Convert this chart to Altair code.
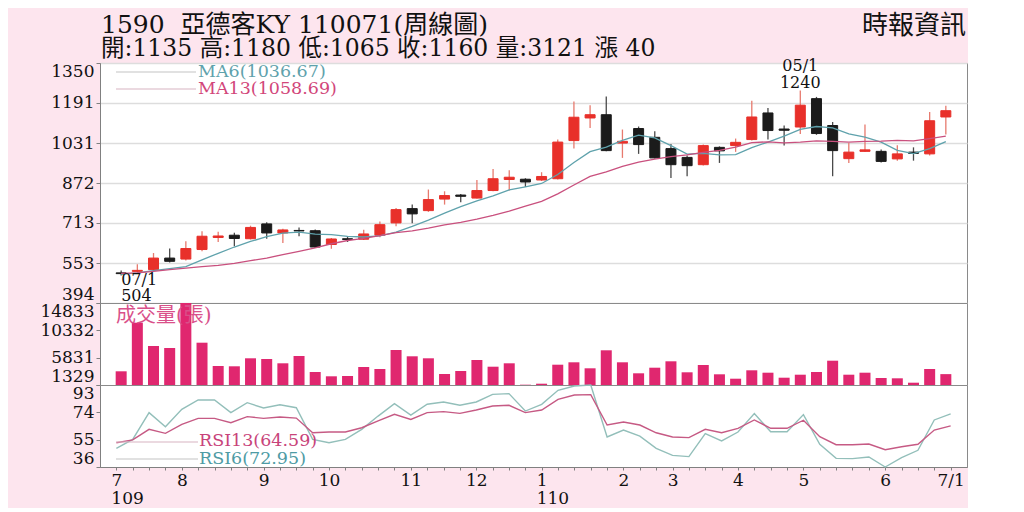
import json
import altair as alt
import pandas as pd

# ---------------- data ----------------
weeks = list(range(52))
opens = [514, 520, 527, 573, 569, 607, 655, 664, 650, 709, 673, 683, 682, 627, 650, 648, 664, 713,
         770, 762, 808, 824, 812, 842, 886, 887, 884, 889, 1041, 1131, 1144, 1031, 1089, 1054, 1009,
         974, 945, 1014, 1021, 1045, 1151, 1087, 1095, 1208, 1101, 969, 998, 998, 968, 995, 988, 1135]
highs = [523, 548, 593, 611, 640, 680, 678, 674, 702, 716, 690, 695, 687, 653, 660, 686, 719, 772,
         786, 846, 839, 828, 884, 928, 923, 891, 915, 1045, 1197, 1182, 1217, 1085, 1097, 1078, 1027,
         982, 1025, 1018, 1049, 1200, 1171, 1101, 1240, 1215, 1115, 1031, 1105, 1005, 1022, 1014, 1155, 1180]
lows = [504, 515, 522, 555, 563, 600, 637, 620, 647, 650, 633, 660, 613, 610, 637, 645, 656, 700,
        712, 757, 786, 795, 810, 839, 842, 856, 880, 886, 1009, 1091, 998, 972, 988, 970, 892,
        899, 942, 952, 996, 1041, 1045, 1021, 1067, 1064, 899, 952, 995, 954, 961, 961, 982, 1065]
closes = [511, 524, 573, 560, 611, 660, 661, 651, 695, 673, 685, 681, 617, 649, 647, 669, 706, 766,
          749, 806, 822, 819, 842, 889, 895, 876, 898, 1035, 1134, 1144, 1001, 1038, 1025, 972, 945,
          941, 1021, 1000, 1034, 1135, 1081, 1082, 1182, 1069, 1001, 995, 1004, 958, 988, 990, 1120, 1160]
ma6 = [508, 514, 523, 531, 539, 566, 592, 617, 639, 658, 672, 676, 668, 666, 659, 657, 661, 676,
       699, 724, 752, 778, 801, 821, 845, 857, 870, 906, 954, 997, 1015, 1042, 1063, 1052, 1021,
       987, 990, 984, 985, 1013, 1035, 1059, 1086, 1097, 1092, 1068, 1055, 1035, 1002, 989, 1009, 1036.67]
ma13 = [512, 514, 520, 527, 533, 539, 544, 552, 563, 573, 587, 600, 614, 630, 643, 651, 662, 674,
        681, 692, 705, 715, 728, 743, 760, 780, 799, 829, 864, 898, 916, 938, 955, 967, 977,
        984, 994, 1002, 1015, 1033, 1036, 1032, 1035, 1040, 1038, 1035, 1038, 1039, 1042, 1040, 1049, 1058.69]
volumes = [3585, 11590, 7752, 7423, 14833, 8296, 4458, 4409, 5727, 5611, 4903, 6105, 3470, 2762,
           2811, 4294, 3964, 7094, 6056, 5727, 3141, 3635, 5447, 4343, 4903, 1380, 1543, 4672,
           5067, 4079, 7044, 5067, 3256, 4178, 5232, 3421, 4623, 3091, 2366, 3750, 3355, 2531,
           3025, 3470, 5331, 3025, 3355, 2482, 2432, 1708, 3964, 3121]
rsi6 = [49, 55.2, 73.8, 64, 76.1, 82.6, 82.6, 73.8, 80.7, 77, 79.3, 77.2, 55.2, 52.9, 55.2, 62.2,
        71.4, 80, 72.1, 79.6, 81.2, 78.9, 81.2, 86.5, 87, 74.9, 79.6, 89.3, 92.3, 93, 56.9, 61.7,
        57.5, 49, 44.1, 43.2, 59.2, 54.1, 60.3, 73.1, 60.5, 60.5, 72.4, 51.8, 42, 41.8, 43, 36,
        42.5, 47.6, 68.7, 72.95]
rsi13 = [52.9, 54.8, 62.2, 59.4, 65.7, 69.8, 69.8, 66.8, 71, 69.8, 70.8, 70, 59.8, 60.3, 60.3, 63.3,
         68, 72.6, 69.1, 73.8, 74.5, 73.3, 75.6, 78.4, 78.9, 73.8, 75.6, 83, 86, 86.3, 65.2, 67.3,
         65.2, 59.8, 56.9, 56.4, 62.2, 59.8, 62.9, 68.7, 62.9, 62.9, 68.5, 57.1, 51.5, 51.5, 52, 48,
         50.1, 51.8, 61.7, 64.59]

month_pos = [0, 4, 9, 13, 18, 22, 26, 31, 34, 38, 42, 47, 51]
month_txt = ["7", "8", "9", "10", "11", "12", "1", "2", "3", "4", "5", "6", "7/1"]
year_pos = [0, 26]
year_txt = ["109", "110"]
price_ticks = [394, 553, 713, 872, 1031, 1191, 1350]
vol_ticks = [1329, 5831, 10332, 14833]
rsi_ticks = [36, 55, 74, 93]

title1 = "1590\u00a0\u00a0亞德客KY 110071(周線圖)"
title2 = "開:1135 高:1180 低:1065 收:1160 量:3121 漲 40"
source = "時報資訊"
ma6_txt = "MA6(1036.67)"
ma13_txt = "MA13(1058.69)"
vol_txt = "成交量(張)"
rsi13_txt = "RSI13(64.59)"
rsi6_txt = "RSI6(72.95)"
low_ann = {"week": 0, "price": 504, "date": "07/1", "val": "504"}
high_ann = {"week": 42, "price": 1240, "date": "05/1", "val": "1240"}

# ---------------- styling ----------------
BG = "#FDE5EE"
RED = "#E8302A"
RED_W = "#E77A6E"
BLK = "#1B1B1B"
BLK_W = "#4A4A4A"
VOL = "#E0276F"
TEAL = "#5FA2AC"
PINK = "#C9507E"
RSI6_C = "#93BFBA"
RSI13_C = "#C65A84"
SERIF = "DejaVu Serif"
MIX = "DejaVu Serif, Noto Sans CJK TC"
AX = "#808080"

W = 867
H1, H2, H3 = 240, 82, 82

df = pd.DataFrame({"week": weeks, "open": opens, "high": highs, "low": lows, "close": closes,
                   "ma6": ma6, "ma13": ma13, "vol": volumes, "rsi6": rsi6, "rsi13": rsi13})

xscale = alt.Scale(domain=[-1, 52], nice=False, zero=False)
up = "datum.close >= datum.open"


def one():
    return alt.Chart(pd.DataFrame({"k": [0]}))


def yaxis(vals, grid=False):
    return alt.Axis(values=vals, format="d", title=None, labelFont=SERIF, labelFontSize=17,
                    labelColor="#111", labelFlush=True, labelPadding=2, tickSize=4, tickColor=AX,
                    domainColor=AX, grid=grid, gridColor="#dddddd", gridWidth=1.5,
                    labelOverlap=False)


def text(t, x, y, color="#111", size=19, align="left", font=MIX):
    return one().mark_text(text=t, align=align, baseline="middle", font=font, fontSize=size,
                           color=color).encode(x=alt.value(x), y=alt.value(y))


def seg(x1, x2, y, color):
    return one().mark_rule(color=color, strokeWidth=1.2).encode(
        x=alt.value(x1), x2=alt.value(x2), y=alt.value(y))


# invisible anchor that fixes the top-left corner of the page
anchor = one().mark_rule(opacity=0).encode(x=alt.value(-91), x2=alt.value(-90), y=alt.value(-54))

# ---------------- price panel ----------------
Xn = alt.X("week:Q", scale=xscale, axis=None)
pscale = alt.Scale(domain=[394, 1350], nice=False, zero=False)
PAX = yaxis(price_ticks, grid=True)


def PY(field):
    return alt.Y(field, type="quantitative", scale=pscale, axis=PAX)


base = alt.Chart(df)
wick = base.mark_rule(strokeWidth=1.3).encode(
    x=Xn, y=PY("low"), y2="high:Q",
    color=alt.condition(up, alt.value(RED_W), alt.value(BLK_W)))
body = base.mark_bar(size=10, strokeWidth=1).encode(
    x=Xn, y=PY("open"), y2="close:Q",
    fill=alt.condition(up, alt.value(RED), alt.value(BLK)),
    stroke=alt.condition(up, alt.value(RED), alt.value(BLK)))
l6 = base.mark_line(color=TEAL, strokeWidth=1.3).encode(x=Xn, y=PY("ma6"))
l13 = base.mark_line(color=PINK, strokeWidth=1.3).encode(x=Xn, y=PY("ma13"))

lowdf = pd.DataFrame([low_ann])
highdf = pd.DataFrame([high_ann])
ann_kw = dict(font=SERIF, fontSize=16, color="#111", baseline="middle")
Xs = alt.X("week:Q", scale=xscale, axis=None)
a1 = alt.Chart(lowdf).mark_text(align="left", dy=5, **ann_kw).encode(
    x=Xs, y=PY("price"), text="date:N")
a2 = alt.Chart(lowdf).mark_text(align="left", dy=21, **ann_kw).encode(
    x=Xs, y=PY("price"), text="val:N")
a3 = alt.Chart(highdf).mark_text(align="center", dy=-25, **ann_kw).encode(
    x=Xs, y=PY("price"), text="date:N")
a4 = alt.Chart(highdf).mark_text(align="center", dy=-8, **ann_kw).encode(
    x=Xs, y=PY("price"), text="val:N")

p1 = alt.layer(
    wick, body, l6, l13, a1, a2, a3, a4,
    seg(16, 96, 9, "#c4c4c4"), seg(16, 96, 26, "#d8b4c2"),
    text(ma6_txt, 98, 9, TEAL, 17.5, font=SERIF), text(ma13_txt, 98, 26, "#D2467A", 17.5, font=SERIF),
    text(title1, 1, -38, "#111", 25), text(title2, 1, -14, "#111", 23.5),
    text(source, 866, -37, "#111", 26, align="right"),
    anchor,
).properties(width=W, height=H1)

# ---------------- volume panel ----------------
vscale = alt.Scale(domain=[1329, 14833], nice=False, zero=False)
vbars = base.mark_bar(size=11, color=VOL).encode(
    x=Xn, y=alt.Y("vol:Q", scale=vscale, axis=yaxis(vol_ticks)), y2=alt.datum(1329))
p2 = alt.layer(vbars, text(vol_txt, 16, 13, "#D9508A", 20), anchor).properties(width=W, height=H2)

# ---------------- RSI panel ----------------
labels = [""] * 52
for p, t in zip(month_pos, month_txt):
    labels[p] = t
xaxis = alt.Axis(values=weeks, labelExpr=json.dumps(labels) + "[datum.value]", title=None,
                 labelFont=SERIF, labelFontSize=17, labelColor="#111", labelFlush=False,
                 labelOverlap=False, labelPadding=2, tickSize=3, tickColor=AX, domainColor=AX,
                 grid=False)
Xa = alt.X("week:Q", scale=xscale, axis=xaxis)
rscale = alt.Scale(domain=[36, 93], nice=False, zero=False)
RAX = yaxis(rsi_ticks)
r6 = base.mark_line(color=RSI6_C, strokeWidth=1.4).encode(
    x=Xa, y=alt.Y("rsi6:Q", scale=rscale, axis=RAX))
r13 = base.mark_line(color=RSI13_C, strokeWidth=1.4).encode(
    x=Xa, y=alt.Y("rsi13:Q", scale=rscale, axis=RAX))
ydf = pd.DataFrame({"week": year_pos, "yr": year_txt})
yr = alt.Chart(ydf).mark_text(align="left", baseline="middle", font=SERIF, fontSize=17,
                              color="#111", dx=-5).encode(
    x=Xa, y=alt.value(114), text="yr:N")
p3 = alt.layer(
    r6, r13, yr,
    seg(16, 98, 57, "#d8b4c2"), seg(16, 98, 74, "#c4c4c4"),
    text(rsi13_txt, 99, 56, "#C8437A", 17.5, font=SERIF), text(rsi6_txt, 99, 74, "#4E9BA4", 17.5, font=SERIF),
    anchor,
).properties(width=W, height=H3)

chart = alt.vconcat(p1, p2, p3, spacing=0, bounds="flush").properties(
    padding=0, background=BG
).configure_view(stroke="#8a8a8a", strokeWidth=1, fill="white")

chart.save("out.html", embed_options={"renderer": "svg", "actions": False})
